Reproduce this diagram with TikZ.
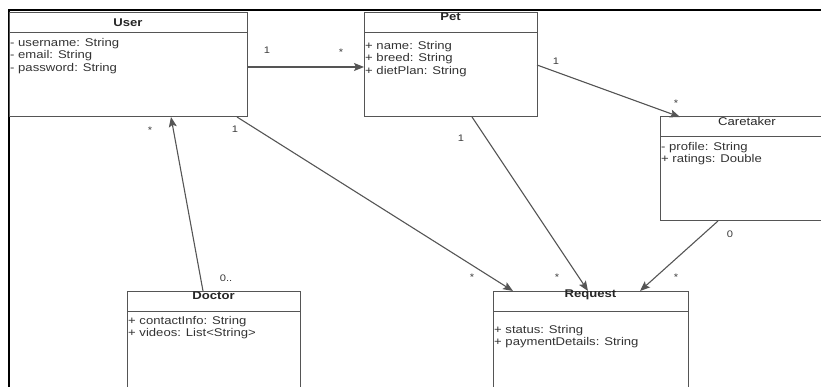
\documentclass[tikz,border=0pt]{standalone}
\usepackage{fontspec}
\setmainfont{Liberation Sans}[FakeStretch=1.17]
\usepackage{tikz}
\usetikzlibrary{arrows.meta}
\definecolor{umlgray}{HTML}{555555}
\definecolor{multgray}{HTML}{3A3A3A}
\newcommand{\classfont}{\fontsize{11.2}{12.6}\selectfont}
\newcommand{\multfont}{\fontsize{9.5}{10}\selectfont}
\tikzstyle{umlclass}=[draw=umlgray, line width=1pt, rectangle, inner sep=0, outer sep=0,
                      anchor=north west, minimum height=104pt]
\tikzstyle{classtitle}=[inner sep=0, font=\classfont\bfseries, text=black!85]
\tikzstyle{attrs}=[inner sep=0, anchor=north west, align=left, font=\classfont, text=black!80]
\tikzstyle{mult}=[inner sep=0, font=\multfont, text=multgray]
\tikzstyle{assoc}=[draw=umlgray, line width=1.1pt, -{Stealth[length=10pt,width=8pt,inset=2pt]}]

\begin{document}
\begin{tikzpicture}[x=1pt, y=-1pt]
    \useasboundingbox (0,0) rectangle (821,387);
    \clip (0,0) rectangle (821,387);
    % frame edges of the screenshot
    \draw[line width=2pt] (8,10.2) -- (821,10.2);
    \draw[line width=2pt] (8.7,10) -- (8.7,387);

    % classes
    \node[umlclass, minimum width=238pt] (user) at (9,13) {};
    \node[umlclass, minimum width=173pt] (pet) at (364,13) {};
    \node[umlclass, minimum width=174pt] (caretaker) at (660,117) {};
    \node[umlclass, minimum width=173pt] (doctor) at (127,291) {};
    \node[umlclass, minimum width=195pt] (request) at (493,291) {};
    \foreach \cls in {user, pet, caretaker, doctor, request}
        \draw[draw=umlgray, line width=1pt] ([shift={(0,20)}]\cls.north west) -- ([shift={(0,20)}]\cls.north east);

    \node[classtitle] (usertitle) at (128,23) {User};
    \node[classtitle] (pettitle) at (450.5,17) {Pet};
    \node[classtitle, font=\classfont] (caretakertitle) at (747,121.5) {Caretaker};
    \node[classtitle] (doctortitle) at (213.5,295.5) {Doctor};
    \node[classtitle] (requesttitle) at (590.5,294.5) {Request};

    \node[attrs] (userattrs) at ([shift={(1,25)}]user.north west) {- username: String\\- email: String\\- password: String};
    \node[attrs] (petattrs) at ([shift={(1,28)}]pet.north west) {+ name: String\\+ breed: String\\+ dietPlan: String};
    \node[attrs] (caretakerattrs) at ([shift={(1,25)}]caretaker.north west) {- profile: String\\+ ratings: Double};
    \node[attrs] (doctorattrs) at ([shift={(1,25)}]doctor.north west) {+ contactInfo: String\\+ videos: List<String>};
    \node[attrs] (requestattrs) at ([shift={(1,34)}]request.north west) {+ status: String\\+ paymentDetails: String};

    % associations
    \draw[assoc] ([shift={(0,54)}]user.north east) -- ([shift={(0,54)}]pet.north west);
    \draw[assoc] ([shift={(0,52)}]pet.north east) -- ([shift={(20,0)}]caretaker.north west);
    \draw[assoc] ([shift={(108,0)}]pet.south west) -- ([shift={(95,0)}]request.north west);
    \draw[assoc] ([shift={(-10,0)}]user.south east) -- ([shift={(20,0)}]request.north west);
    \draw[assoc] ([shift={(58,0)}]caretaker.south west) -- ([shift={(147,0)}]request.north west);
    \draw[assoc] ([shift={(76,0)}]doctor.north west) -- ([shift={(162,0)}]user.south west);

    % multiplicities
    \node[mult] (m1) at (267,50) {1};
    \node[mult] (m2) at (341,52) {*};
    \node[mult] (m3) at (556,61) {1};
    \node[mult] (m4) at (676,103) {*};
    \node[mult] (m5) at (461,138) {1};
    \node[mult] (m6) at (557,277) {*};
    \node[mult] (m7) at (235,129) {1};
    \node[mult] (m8) at (472,277) {*};
    \node[mult] (m9) at (730,234) {0};
    \node[mult] (m10) at (676,277) {*};
    \node[mult] (m11) at (150,130) {*};
    \node[mult] (m12) at (226,278) {0..};
\end{tikzpicture}
\end{document}
